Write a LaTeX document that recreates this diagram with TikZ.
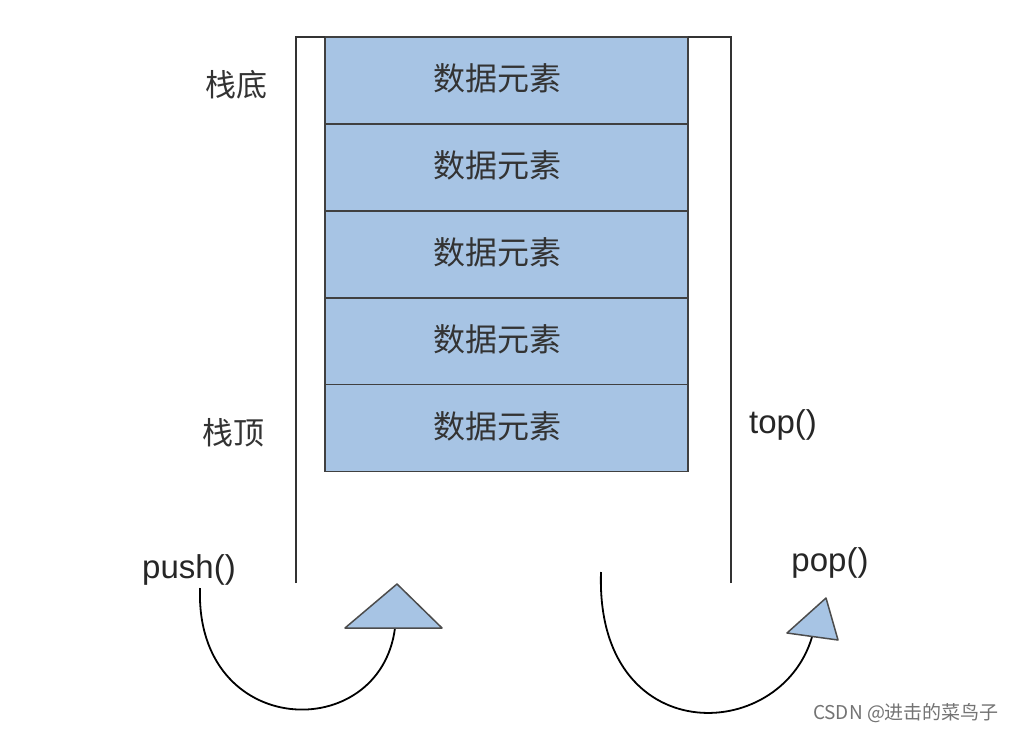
\documentclass[tikz,border=0pt]{standalone}
\usepackage{fontspec}
\setmainfont{Liberation Sans}
\newfontfamily\cjk{Noto Sans CJK SC}
\begin{document}
\begin{tikzpicture}[x=1pt,y=-1pt,
  cell/.style={draw=black!75,fill=boxblue,line width=1.5pt,minimum width=363pt,minimum height=87pt,inner sep=0pt},
  ctext/.style={font=\cjk\fontsize{32}{34}\selectfont,text=black!80},
  wall/.style={draw=black!80,line width=1.5pt},
  lab/.style={font=\fontsize{33}{36}\selectfont,text=black!85},
  clab/.style={font=\cjk\fontsize{31}{34}\selectfont,text=black!80},
  curve/.style={draw=black,line width=1.8pt},
  tri/.style={draw=black!70,fill=boxblue,line width=1.5pt,line join=round}]
\definecolor{boxblue}{RGB}{167,196,228}
\useasboundingbox (0,0) rectangle (1017,732);
\fill[white] (0,0) rectangle (1017,732);
\foreach \i/\y in {1/80.5,2/167.5,3/254.5,4/341.5,5/428}{
  \node[cell] (c\i) at (506.5,\y) {};
  \node[ctext] (t\i) at (497,\y-2) {数据元素};}
\coordinate (lt) at (296,37); \coordinate (lb) at (296,583);
\coordinate (rt) at (731,37); \coordinate (rb) at (731,583);
\draw[wall] (lb) -- (lt) -- (325,37);
\draw[wall] (rb) -- (rt) -- (688,37);
\node[clab] (d) at (236,85) {栈底};
\node[clab] (t) at (233,433) {栈顶};
\node[lab] (top) at (783,425) {top()};
\node[lab] (push) at (189,570) {push()};
\node[lab] (pop) at (830,563) {pop()};
\coordinate (p1) at (200,588); \coordinate (p2) at (395,628);
\draw[curve] (p1) .. controls (195,740) and (380,745) .. (p2);
\draw[tri] (397,584) -- (442,628) -- (345,628) -- cycle;
\coordinate (q1) at (601,572); \coordinate (q2) at (812,637);
\draw[curve] (q1) .. controls (595,750) and (780,745) .. (q2);
\draw[tri] (826,598) -- (838,640) -- (787,633) -- cycle;
\node[font=\cjk\fontsize{19}{21}\selectfont,text=black!55] (w) at (906,713) {CSDN @进击的菜鸟子};
\end{tikzpicture}
\end{document}
